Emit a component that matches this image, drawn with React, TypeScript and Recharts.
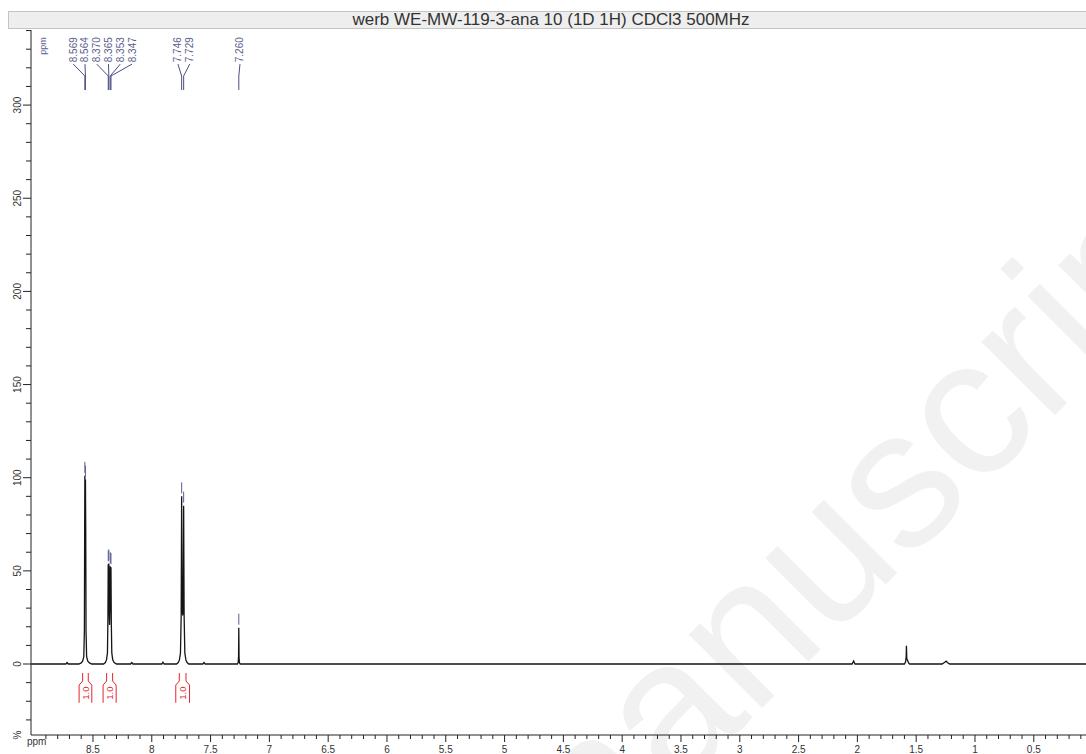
import React from 'react';
import { ComposedChart, Line, Scatter, XAxis, YAxis, ReferenceLine } from 'recharts';

// spectrum trace: [ppm, intensity %]
const SPECTRUM: [number, number][] = [
  [9.027, 0], [8.73, 0], [8.72, 0.8], [8.71, 0],
  [8.62, 0], [8.6, 0.6], [8.588, 1.5], [8.578, 4], [8.573, 18], [8.5705, 75], [8.569, 101], [8.5665, 72],
  [8.564, 99], [8.5615, 70], [8.559, 18], [8.554, 4], [8.544, 1.5], [8.53, 0.6], [8.51, 0],
  [8.41, 0], [8.395, 0.8], [8.385, 2.2], [8.377, 6], [8.373, 24], [8.3705, 53.5], [8.3675, 44], [8.365, 54],
  [8.3615, 26], [8.359, 21], [8.356, 28], [8.353, 52.5], [8.35, 43], [8.347, 52], [8.344, 22], [8.34, 6],
  [8.332, 2.2], [8.32, 0.8], [8.3, 0],
  [8.18, 0], [8.17, 0.8], [8.16, 0],
  [7.915, 0], [7.905, 1.0], [7.895, 0],
  [7.79, 0], [7.775, 0.8], [7.765, 2.2], [7.756, 6], [7.75, 26], [7.746, 90], [7.742, 32], [7.7375, 26],
  [7.733, 32], [7.729, 85], [7.725, 26], [7.719, 6], [7.71, 2.2], [7.7, 0.8], [7.685, 0],
  [7.566, 0], [7.556, 0.8], [7.546, 0],
  [7.272, 0], [7.265, 0.8], [7.262, 4], [7.26, 19.5], [7.258, 4], [7.255, 0.8], [7.248, 0],
  [2.045, 0], [2.032, 1.6], [2.02, 0],
  [1.6, 0], [1.59, 1.2], [1.585, 4], [1.583, 9.8], [1.58, 3], [1.572, 1.8], [1.565, 0.6], [1.555, 0],
  [1.28, 0], [1.26, 0.8], [1.245, 1.5], [1.235, 0.8], [1.215, 0],
  [0.056, 0],
];

// picked peaks
const PEAK_PPM = [8.569, 8.564, 8.37, 8.365, 8.353, 8.347, 7.746, 7.729, 7.26];
const PEAK_HEIGHT = [101, 99, 53.5, 54, 52.5, 52, 90, 85, 19.5];
const PEAK_GROUP = [0, 0, 0, 0, 0, 0, 1, 1, 2];

// integrals
const INTEGRAL_FROM = [8.588, 8.384, 7.766];
const INTEGRAL_TO = [8.54, 8.333, 7.709];
const INTEGRAL_VALUE = ['1.0', '1.0', '1.0'];

// 0.1 ppm ticks, labelled every 0.5
const X_TICKS = Array.from({ length: 89 }, (_, i) => +((i + 1) / 10).toFixed(1));
const Y_TICKS = Array.from({ length: 38 }, (_, i) => -30 + i * 10);

const X_DOMAIN: [number, number] = [0.056, 9.027];
const Y_DOMAIN: [number, number] = [-38.1, 340.3];

const FONT = '"Liberation Sans", Arial, sans-serif';
const LABEL_COLOR = '#5a5e8c';
const LINE_COLOR = '#4b4f80';
const RED = '#e2262b';
const AXIS = '#222';

// label rows (in data units)
const LABEL_Y = 323;
const ELBOW_Y = 315.6;
const END_Y = 308.1;
const LABEL_STEP = 0.1;
const LABEL_SHIFT = 0.01;

// integral bracket rows
const BR_TOP = -4.8;
const BR_E1 = -9.1;
const BR_E2 = -11.3;
const BR_BOTTOM = -20.8;
const BR_SPREAD = 0.03;
const BR_TEXT_Y = -15.6;

const spectrumData = SPECTRUM.map(([ppm, v]) => ({ ppm, v }));
const peakData = PEAK_PPM.map((ppm, i) => ({ ppm, v: PEAK_HEIGHT[i] }));

const labelData = PEAK_PPM.map((ppm, i) => {
  const g = PEAK_GROUP[i];
  const members = PEAK_PPM.filter((_, j) => PEAK_GROUP[j] === g);
  const k = PEAK_PPM.slice(0, i).filter((_, j) => PEAK_GROUP[j] === g).length;
  const mean = members.reduce((a, b) => a + b, 0) / members.length;
  const pos = mean + LABEL_STEP * ((members.length - 1) / 2 - k) - LABEL_SHIFT;
  return { ppm: pos, v: LABEL_Y, peak: ppm, text: ppm.toFixed(3) };
});

const integralText = INTEGRAL_FROM.map((f, i) => ({
  ppm: (f + INTEGRAL_TO[i]) / 2,
  v: BR_TEXT_Y,
  text: INTEGRAL_VALUE[i],
}));

const XTick = (props: any) => {
  const { x, y, payload } = props;
  const v = payload.value;
  const major = Math.round(v * 10) % 5 === 0;
  return (
    <g>
      <line x1={x} x2={x} y1={y} y2={y + (major ? 7 : 4)} stroke={AXIS} />
      {major && (
        <text x={x} y={y + 17.5} textAnchor="middle" fontSize={10} fill="#333" fontFamily={FONT}>
          {String(v)}
        </text>
      )}
    </g>
  );
};

const YTick = (props: any) => {
  const { x, y, payload } = props;
  const v = payload.value;
  const major = v % 50 === 0;
  return (
    <g>
      <line x1={x - (major ? 8 : 5)} x2={x} y1={y} y2={y} stroke={AXIS} />
      {major && v >= 0 && (
        <text
          x={x - 13}
          y={y}
          transform={`rotate(-90 ${x - 13} ${y})`}
          textAnchor="middle"
          dominantBaseline="central"
          fontSize={10}
          fill="#333"
          fontFamily={FONT}
        >
          {v}
        </text>
      )}
    </g>
  );
};

const markerShape = (p: any) => (
  <line x1={p.cx} x2={p.cx} y1={p.cy - 3} y2={p.cy - 14} stroke={LABEL_COLOR} strokeWidth={1} />
);

const labelShape = (p: any) => (
  <text
    x={p.cx}
    y={p.cy}
    transform={`rotate(-90 ${p.cx} ${p.cy})`}
    textAnchor="start"
    dominantBaseline="central"
    fontSize={10}
    fill={LABEL_COLOR}
    fontFamily={FONT}
  >
    {p.payload.text}
  </text>
);

const integralShape = (p: any) => (
  <text
    x={p.cx}
    y={p.cy}
    transform={`rotate(-90 ${p.cx} ${p.cy})`}
    textAnchor="middle"
    dominantBaseline="central"
    fontSize={9.5}
    fill={RED}
    fontFamily={FONT}
  >
    {p.payload.text}
  </text>
);

const bracketSide = (inner: number, outer: number, key: string) => [
  [[inner, BR_TOP], [inner, BR_E1]],
  [[inner, BR_E1], [outer, BR_E2]],
  [[outer, BR_E2], [outer, BR_BOTTOM]],
].map((s, j) => (
  <ReferenceLine
    key={`${key}-${j}`}
    segment={[{ x: s[0][0], y: s[0][1] }, { x: s[1][0], y: s[1][1] }]}
    stroke={RED}
    strokeWidth={1}
    ifOverflow="visible"
  />
));

export default function App() {
  return (
    <div style={{ position: 'absolute', left: 0, top: 0, width: 1086, height: 754, overflow: 'hidden', background: '#fff' }}>
      <svg width={1086} height={754} style={{ position: 'absolute', left: 0, top: 0 }}>
        <text
          x={560}
          y={910}
          transform="rotate(-45 560 910)"
          fontSize={196}
          fill="#f1f1f1"
          fontFamily={FONT}
        >
          manuscript
        </text>
        <text x={27} y={745} fontSize={10} fill="#333" fontFamily={FONT}>ppm</text>
        <text x={17} y={735} transform="rotate(-90 17 735)" textAnchor="middle" dominantBaseline="central" fontSize={10} fill="#333" fontFamily={FONT}>%</text>
        <text x={43} y={46} transform="rotate(-90 43 46)" textAnchor="middle" dominantBaseline="central" fontSize={9} fill={LABEL_COLOR} fontFamily={FONT}>ppm</text>
      </svg>
      <div
        style={{
          position: 'absolute',
          left: 8,
          top: 11,
          width: 1090,
          height: 18,
          boxSizing: 'border-box',
          background: '#eeeeee',
          border: '1px solid #c4c4c4',
          fontFamily: FONT,
          fontSize: 17,
          lineHeight: '16px',
          color: '#333',
        }}
      >
        <div style={{ position: 'absolute', left: 0, width: 1084, top: 0, textAlign: 'center' }}>
          werb WE-MW-119-3-ana 10 (1D 1H) CDCl3 500MHz
        </div>
      </div>
      <div style={{ position: 'absolute', left: 0, top: 0 }}>
        <ComposedChart width={1086} height={754} margin={{ top: 30, right: 0, bottom: 0, left: 0 }}>
          <XAxis
            dataKey="ppm"
            type="number"
            domain={X_DOMAIN}
            reversed
            allowDataOverflow
            ticks={X_TICKS}
            interval={0}
            tickSize={0}
            tickMargin={0}
            tick={<XTick />}
            height={19}
            axisLine={{ stroke: AXIS }}
          />
          <YAxis
            type="number"
            domain={Y_DOMAIN}
            allowDataOverflow
            ticks={Y_TICKS}
            interval={0}
            tickSize={0}
            tickMargin={0}
            tick={<YTick />}
            width={31}
            axisLine={{ stroke: AXIS }}
          />
          <Line
            data={spectrumData}
            dataKey="v"
            type="linear"
            dot={false}
            stroke="#151515"
            strokeWidth={1.3}
            isAnimationActive={false}
          />
          {labelData.map((l, i) => [
            <ReferenceLine
              key={`ls-${i}`}
              segment={[{ x: l.ppm, y: LABEL_Y - 1 }, { x: l.peak, y: ELBOW_Y }]}
              stroke={LINE_COLOR}
              ifOverflow="visible"
            />,
            <ReferenceLine
              key={`lv-${i}`}
              segment={[{ x: l.peak, y: ELBOW_Y }, { x: l.peak, y: END_Y }]}
              stroke={LINE_COLOR}
              ifOverflow="visible"
            />,
          ])}
          {INTEGRAL_FROM.map((f, i) => [
            ...bracketSide(f, f + BR_SPREAD, `bl-${i}`),
            ...bracketSide(INTEGRAL_TO[i], INTEGRAL_TO[i] - BR_SPREAD, `br-${i}`),
          ])}
          <Scatter data={peakData} dataKey="v" shape={markerShape} isAnimationActive={false} />
          <Scatter data={labelData} dataKey="v" shape={labelShape} isAnimationActive={false} />
          <Scatter data={integralText} dataKey="v" shape={integralShape} isAnimationActive={false} />
        </ComposedChart>
      </div>
    </div>
  );
}
